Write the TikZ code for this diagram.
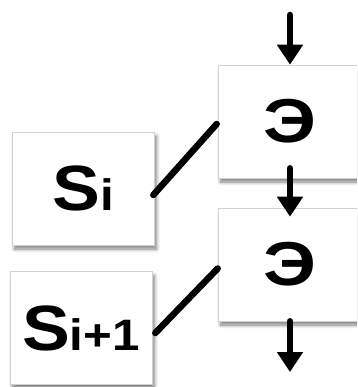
\documentclass[tikz,border=0pt]{standalone}
\usepackage{fontspec}
\setmainfont{Liberation Sans}
\usetikzlibrary{arrows.meta,shadows.blur}
\tikzset{
  blk/.style={draw=black!18, line width=0.6pt, fill=white,
    blur shadow={shadow xshift=2.5pt, shadow yshift=-4pt, shadow blur steps=8, shadow blur radius=3.5pt, shadow opacity=50},
    minimum height=113pt, inner sep=0pt},
  eblk/.style={blk, minimum width=144pt},
  sblk/.style={blk, minimum width=142pt},
  flow/.style={line width=6.5pt, line cap=round, -{Triangle[width=25pt,length=20pt]}},
  link/.style={line width=6.5pt, line cap=round},
}
\newcommand{\bigtxt}[1]{\scalebox{1.2}[1]{\fontsize{62}{62}\selectfont\bfseries #1}}
\newcommand{\stxt}[1]{\scalebox{1.12}[1]{\bfseries\fontsize{64}{64}\selectfont S\fontsize{44}{44}\selectfont #1}}
\begin{document}
\begin{tikzpicture}[x=1pt,y=-1pt]
\useasboundingbox (0,0) rectangle (357,387);
\clip (0,0) rectangle (357,387);
\node[eblk] (e1) at (290,121.5) {\bigtxt{Э}};
\node[eblk] (e2) at (290,264.5) {\bigtxt{Э}};
\node[sblk] (si) at (83,188.5) {\stxt{i}};
\node[sblk] (si1) at (81,328) {\stxt{i+1}};
\coordinate (top) at (290,15);
\coordinate (bot) at (290,372);
\draw[flow] (top) -- (e1.north);
\draw[flow] ([yshift=10pt]e1.south) -- ([yshift=-9pt]e2.north);
\draw[flow] (e2.south) -- (bot);
\draw[link] ([xshift=-1pt,yshift=-6.5pt]si.east) -- ([xshift=-1pt,yshift=-2.5pt]e1.west);
\draw[link] ([xshift=3pt,yshift=-5pt]si1.east) -- ([xshift=0pt,yshift=-4pt]e2.west);
\end{tikzpicture}
\end{document}
